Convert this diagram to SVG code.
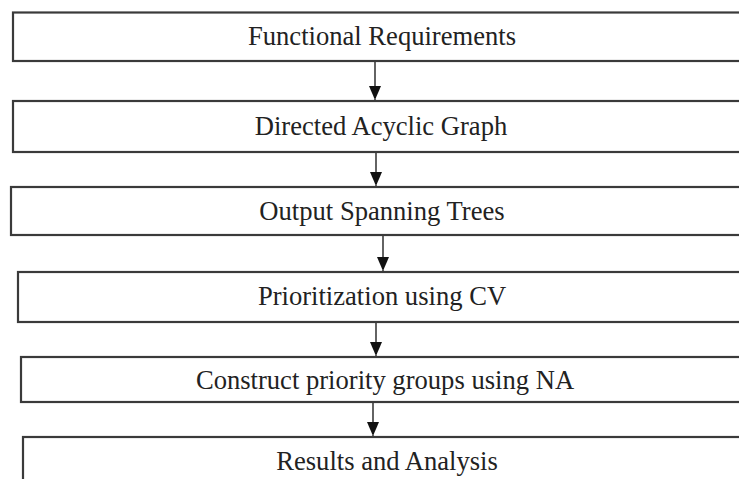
<svg xmlns="http://www.w3.org/2000/svg" width="739" height="479" viewBox="0 0 739 479">
<style>
.box{fill:#fff;stroke:#3a3a3a;stroke-width:2.2}
.lbl{font-family:"Liberation Serif","Times New Roman",serif;font-size:26.6px;fill:#222;text-anchor:middle}
.edge{stroke:#222;stroke-width:1.4;fill:none}
</style>
<defs>
<marker id="ah" viewBox="0 0 10 12" refX="10" refY="6" markerWidth="10" markerHeight="12" markerUnits="userSpaceOnUse" orient="auto">
<path d="M0,0 L10,6 L0,12 Z" fill="#111"/>
</marker>
<marker id="ahd" viewBox="0 0 12 14" refX="14" refY="6" markerWidth="12" markerHeight="14" markerUnits="userSpaceOnUse" orient="auto">
<path d="M0,0 L14,6 L0,12 Z" fill="#111"/>
</marker>
</defs>
<rect width="739" height="479" fill="#fff"/>
<g id="connectors">
<path class="edge" d="M375,62 V100" marker-end="url(#ahd)"/>
<path class="edge" d="M376,153 V186" marker-end="url(#ahd)"/>
<path class="edge" d="M383,236 V271" marker-end="url(#ahd)"/>
<path class="edge" d="M376,323 V356" marker-end="url(#ahd)"/>
<path class="edge" d="M373,403 V436" marker-end="url(#ahd)"/>
</g>
<g id="n1"><rect class="box" x="13" y="12.5" width="740" height="48.5"/><text class="lbl" x="382" y="45">Functional Requirements</text></g>
<g id="n2"><rect class="box" x="13" y="101" width="740" height="51"/><text class="lbl" x="381" y="134.5">Directed Acyclic Graph</text></g>
<g id="n3"><rect class="box" x="11" y="187" width="740" height="48"/><text class="lbl" x="382" y="220">Output Spanning Trees</text></g>
<g id="n4"><rect class="box" x="18" y="272" width="740" height="50"/><text class="lbl" x="382" y="305">Prioritization using CV</text></g>
<g id="n5"><rect class="box" x="21" y="357" width="740" height="45"/><text class="lbl" x="385" y="389">Construct priority groups using NA</text></g>
<g id="n6"><rect class="box" x="23" y="437" width="740" height="60"/><text class="lbl" x="387" y="470">Results and Analysis</text></g>
</svg>
